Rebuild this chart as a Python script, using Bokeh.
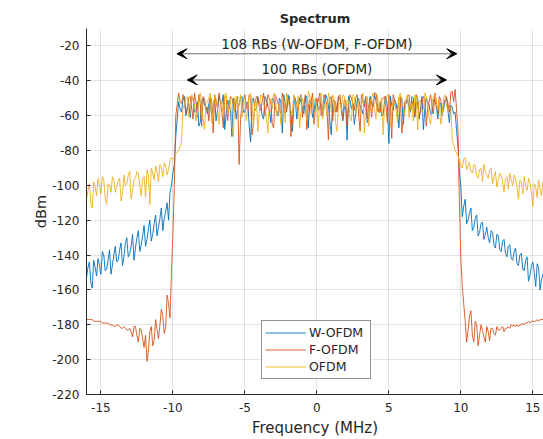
import numpy as np
from bokeh.plotting import figure
from bokeh.models import (ColumnDataSource, Range1d, FixedTicker, Legend, LegendItem,
                          Arrow, VeeHead, Label)
from bokeh.embed import file_html
from bokeh.resources import INLINE

# ---------------- data ----------------
# frequency bins (MHz): out-of-band left, in-band, out-of-band right, two interleaved grids
freq_left = np.round(np.linspace(-16.0, -9.8, 32), 2)
freq_left2 = np.round(np.linspace(-15.9, -9.9, 31), 2)
freq_band = np.round(np.linspace(-9.6, 9.6, 97), 2)
freq_band2 = np.round(np.linspace(-9.5, 9.5, 96), 2)
freq_right = np.round(np.linspace(9.8, 16.0, 32), 2)
freq_right2 = np.round(np.linspace(9.9, 15.9, 31), 2)

# W-OFDM (dBm)
wofdm_left = [-153, -144, -159, -147, -142, -151, -140, -148, -137, -146,
              -135, -143, -133, -141, -130, -139, -128, -136, -126, -134,
              -123, -131, -120, -128, -117, -124, -113, -119, -110, -104,
              -93, -72]
wofdm_left2 = [-147, -156, -143, -152, -146, -138, -149, -143, -151, -140,
               -144, -137, -146, -133, -141, -135, -143, -130, -138, -129,
               -135, -125, -132, -122, -129, -119, -126, -115, -120, -100,
               -88]
wofdm_band = [-52, -58, -49, -55, -61, -50, -57, -66, -51, -54,
              -59, -50, -56, -63, -49, -53, -68, -51, -57, -50,
              -62, -54, -49, -58, -52, -75, -50, -56, -53, -60,
              -49, -55, -64, -51, -57, -50, -70, -53, -48, -59,
              -54, -62, -50, -56, -49, -67, -52, -58, -51, -55,
              -60, -48, -54, -71, -51, -57, -50, -63, -53, -49,
              -56, -65, -51, -55, -59, -50, -62, -53, -48, -57,
              -52, -60, -49, -76, -54, -51, -58, -50, -65, -53,
              -55, -49, -61, -52, -57, -68, -50, -54, -59, -51,
              -62, -53, -56, -50, -64, -55, -58]
wofdm_band2 = [-56, -51, -60, -53, -49, -58, -52, -64, -50, -55,
               -53, -61, -50, -57, -52, -48, -59, -54, -72, -51,
               -55, -50, -58, -53, -66, -51, -57, -49, -54, -62,
               -51, -57, -50, -55, -60, -52, -48, -58, -53, -69,
               -50, -56, -52, -59, -49, -54, -61, -51, -57, -53,
               -55, -50, -63, -52, -58, -49, -54, -56, -74, -51,
               -53, -59, -50, -56, -52, -64, -49, -55, -51, -58,
               -60, -52, -55, -49, -57, -53, -67, -50, -54, -51,
               -58, -50, -53, -62, -49, -56, -52, -59, -51, -55,
               -53, -60, -51, -57, -54, -59]
wofdm_right = [-78, -101, -112, -122, -116, -126, -119, -129, -122, -131,
               -124, -133, -127, -136, -129, -138, -131, -141, -134, -143,
               -136, -146, -139, -149, -141, -152, -144, -158, -147, -154,
               -149, -157]
wofdm_right2 = [-92, -118, -108, -120, -113, -124, -117, -127, -121, -128,
                -130, -126, -134, -128, -137, -132, -139, -135, -142, -138,
                -145, -140, -148, -143, -155, -146, -150, -145, -160, -151,
                -153]

# F-OFDM (dBm)
fofdm_left = [-177, -177, -177, -178, -178, -178, -179, -179, -180, -180,
              -181, -180, -182, -181, -183, -182, -187, -181, -190, -183,
              -193, -201, -184, -192, -177, -188, -171, -185, -163, -176,
              -128, -60]
fofdm_left2 = [-177, -177, -178, -178, -178, -179, -179, -179, -180, -181,
               -180, -181, -182, -182, -183, -184, -181, -186, -182, -188,
               -186, -195, -181, -189, -183, -180, -175, -181, -168, -150,
               -100]
fofdm_band = [-47, -53, -50, -57, -49, -62, -52, -48, -66, -51,
              -55, -49, -70, -52, -47, -58, -50, -63, -49, -54,
              -51, -88, -53, -48, -57, -50, -64, -49, -55, -52,
              -60, -48, -53, -67, -50, -56, -47, -59, -51, -72,
              -49, -54, -50, -61, -48, -55, -52, -65, -50, -47,
              -56, -51, -74, -49, -53, -58, -48, -62, -51, -55,
              -50, -57, -48, -69, -52, -49, -54, -61, -47, -53,
              -58, -50, -55, -48, -73, -51, -56, -49, -63, -52,
              -48, -54, -60, -50, -57, -49, -66, -52, -55, -47,
              -59, -51, -54, -49, -58, -46, -45]
fofdm_band2 = [-52, -48, -59, -50, -55, -47, -61, -53, -49, -57,
               -63, -51, -48, -56, -52, -67, -49, -54, -50, -58,
               -49, -62, -51, -55, -48, -71, -53, -50, -57, -47,
               -54, -50, -65, -48, -53, -59, -51, -56, -49, -62,
               -50, -57, -48, -53, -68, -51, -47, -55, -52, -60,
               -48, -54, -50, -63, -52, -49, -57, -51, -66, -48,
               -53, -50, -59, -48, -55, -62, -50, -52, -47, -58,
               -51, -49, -64, -53, -48, -56, -50, -70, -52, -49,
               -57, -51, -48, -61, -53, -50, -55, -48, -59, -52,
               -49, -56, -51, -53, -47, -52]
fofdm_right = [-68, -142, -168, -190, -175, -186, -178, -192, -180, -187,
               -181, -189, -182, -186, -183, -182, -184, -182, -182, -181,
               -181, -181, -180, -180, -179, -179, -178, -178, -178, -177,
               -177, -177]
fofdm_right2 = [-110, -158, -178, -183, -172, -190, -180, -186, -183, -190,
                -184, -182, -185, -181, -183, -181, -182, -181, -180, -180,
                -180, -180, -179, -179, -178, -178, -178, -177, -177, -177,
                -177]

# OFDM (dBm)
ofdm_left = [-108, -99, -113, -101, -96, -105, -97, -111, -100, -95,
             -104, -97, -109, -94, -99, -92, -103, -96, -93, -106,
             -95, -91, -111, -93, -89, -98, -90, -87, -94, -86,
             -85, -82]
ofdm_left2 = [-103, -110, -98, -106, -100, -95, -107, -99, -104, -97,
              -101, -96, -105, -100, -94, -108, -97, -92, -100, -96,
              -107, -94, -90, -97, -92, -88, -95, -89, -91, -84,
              -84]
ofdm_band = [-80, -75, -54, -49, -58, -51, -63, -50, -55, -68,
             -52, -47, -57, -50, -65, -53, -48, -59, -51, -72,
             -49, -54, -61, -50, -56, -47, -66, -52, -58, -49,
             -54, -70, -51, -47, -60, -53, -49, -64, -52, -57,
             -48, -55, -67, -50, -53, -46, -59, -51, -56, -49,
             -62, -52, -47, -58, -50, -69, -53, -48, -55, -51,
             -63, -49, -54, -60, -47, -52, -66, -50, -56, -48,
             -53, -71, -51, -49, -58, -52, -64, -47, -55, -50,
             -61, -53, -48, -68, -51, -56, -49, -62, -52, -48,
             -57, -65, -50, -54, -56, -74, -80]
ofdm_band2 = [-78, -56, -50, -61, -48, -54, -59, -47, -62, -53,
              -50, -64, -49, -55, -51, -60, -47, -56, -66, -50,
              -57, -48, -52, -63, -49, -55, -51, -69, -48, -54,
              -62, -50, -56, -48, -58, -65, -51, -47, -55, -60,
              -52, -49, -58, -54, -63, -48, -53, -50, -67, -47,
              -55, -60, -51, -48, -64, -53, -57, -49, -52, -61,
              -48, -58, -51, -55, -70, -49, -53, -47, -62, -56,
              -50, -54, -48, -66, -52, -57, -49, -53, -60, -48,
              -55, -63, -50, -52, -58, -47, -54, -65, -49, -53,
              -51, -60, -48, -57, -55, -77]
ofdm_right = [-83, -88, -85, -91, -87, -93, -89, -96, -90, -88,
              -94, -91, -99, -92, -97, -94, -104, -95, -93, -100,
              -96, -108, -98, -95, -103, -99, -112, -101, -97, -106,
              -100, -109]
ofdm_right2 = [-86, -90, -84, -89, -92, -88, -95, -91, -98, -92,
               -96, -90, -95, -101, -93, -98, -96, -102, -97, -94,
               -101, -97, -105, -100, -96, -104, -99, -107, -102, -98,
               -104]

series_names = ["W-OFDM", "F-OFDM", "OFDM"]
series_colors = ["#0072BD", "#D95319", "#EDB120"]

x_ticks = [-15, -10, -5, 0, 5, 10, 15]
y_ticks = [-220, -200, -180, -160, -140, -120, -100, -80, -60, -40, -20]

rb_labels = ["108 RBs (W-OFDM, F-OFDM)", "100 RBs (OFDM)"]
rb_half_bw = [9.72, 9.0]          # MHz, half bandwidth of each allocation
rb_arrow_level = [-24.5, -39.5]   # dBm
rb_text_level = [-18.8, -33.2]    # dBm

# ---------------- build sorted series ----------------
freq_all = np.concatenate([freq_left, freq_left2, freq_band, freq_band2, freq_right, freq_right2])
order = np.argsort(freq_all, kind="stable")


def assemble(*parts):
    return np.concatenate([np.asarray(a, dtype=float) for a in parts])[order]


src = ColumnDataSource(dict(
    f=freq_all[order],
    w=assemble(wofdm_left, wofdm_left2, wofdm_band, wofdm_band2, wofdm_right, wofdm_right2),
    fo=assemble(fofdm_left, fofdm_left2, fofdm_band, fofdm_band2, fofdm_right, fofdm_right2),
    o=assemble(ofdm_left, ofdm_left2, ofdm_band, ofdm_band2, ofdm_right, ofdm_right2),
))

# ---------------- figure ----------------
FONT = "DejaVu Sans"
TXT = "#262626"

p = figure(width=543, height=439, x_range=Range1d(-16, 15.74), y_range=Range1d(-220, -10),
           output_backend="svg", toolbar_location=None,
           min_border_left=86, min_border_right=0, min_border_top=28, min_border_bottom=44,
           background_fill_color="white", border_fill_color="white")
p.outline_line_color = None

p.title.text = "Spectrum"
p.title.align = "center"
p.title.offset = 2
p.title.standoff = 5
p.title.text_font = FONT
p.title.text_font_size = "13px"
p.title.text_font_style = "bold"
p.title.text_color = TXT

renderers = []
for col, name, color in zip(["w", "fo", "o"], series_names, series_colors):
    r = p.line("f", col, source=src, line_color=color, line_width=1, line_alpha=0.9)
    renderers.append(r)

# axes
p.xaxis.ticker = FixedTicker(ticks=x_ticks)
p.yaxis.ticker = FixedTicker(ticks=y_ticks)
p.xaxis.major_label_overrides = {t: str(t) for t in x_ticks}
p.yaxis.major_label_overrides = {t: str(t) for t in y_ticks}
for ax in (p.xaxis, p.yaxis):
    ax.axis_line_color = TXT
    ax.axis_line_width = 1
    ax.major_tick_line_color = TXT
    ax.major_tick_in = 4
    ax.major_tick_out = 0
    ax.minor_tick_line_color = None
    ax.major_label_text_font = FONT
    ax.major_label_text_font_size = "12px"
    ax.major_label_text_color = TXT
    ax.axis_label_text_font = FONT
    ax.axis_label_text_font_style = "normal"
    ax.axis_label_text_color = TXT
p.xaxis.axis_label = "Frequency (MHz)"
p.yaxis.axis_label = "dBm"
p.xaxis.axis_label_text_font_size = "15px"
p.yaxis.axis_label_text_font_size = "14.5px"
p.xaxis.major_label_standoff = 8
p.xaxis.axis_label_standoff = 4
p.yaxis.major_label_standoff = 7
p.yaxis.axis_label_standoff = 0

p.grid.grid_line_color = "#262626"
p.grid.grid_line_alpha = 0.13

# bandwidth arrows and labels
for lab, hb, ya, yt in zip(rb_labels, rb_half_bw, rb_arrow_level, rb_text_level):
    p.add_layout(Arrow(x_start=-hb, x_end=hb, y_start=ya, y_end=ya,
                       line_color="#707070", line_width=1,
                       start=VeeHead(size=10, fill_color="black", line_color="black"),
                       end=VeeHead(size=10, fill_color="black", line_color="black")))
    p.add_layout(Label(x=0, y=yt, text=lab, text_align="center", text_baseline="middle",
                       text_font=FONT, text_font_size="13.5px", text_color=TXT))

legend = Legend(items=[LegendItem(label=n, renderers=[r]) for n, r in zip(series_names, renderers)],
                location=(175, 15), label_text_font=FONT, label_text_font_size="12.5px",
                label_text_color=TXT, glyph_width=41, glyph_height=17, label_height=17,
                label_width=58, label_standoff=3, spacing=0, padding=3, margin=0,
                border_line_color=TXT, border_line_width=1, background_fill_alpha=1)
p.add_layout(legend)

open("out.html", "w").write(file_html(p, INLINE))
